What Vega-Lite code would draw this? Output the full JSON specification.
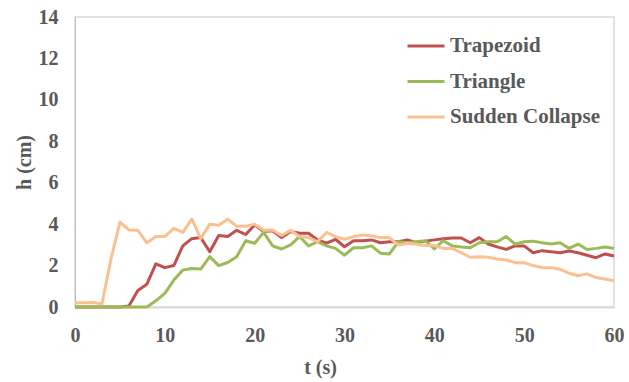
{
  "$schema": "https://vega.github.io/schema/vega-lite/v6.json",
  "autosize": "none",
  "width": 539,
  "height": 290,
  "padding": {"left": 75, "top": 17, "right": 15, "bottom": 75},
  "background": "white",
  "config": {
    "view": {"stroke": "#d9d9d9", "strokeWidth": 1.5},
    "font": "Times New Roman, Liberation Serif, serif"
  },
  "data": {
    "values": [
      {"t":0,"Trapezoid":0,"Triangle":0,"Sudden Collapse":0.2},
      {"t":1,"Trapezoid":0,"Triangle":0,"Sudden Collapse":0.2},
      {"t":2,"Trapezoid":0,"Triangle":0,"Sudden Collapse":0.22},
      {"t":3,"Trapezoid":0,"Triangle":0,"Sudden Collapse":0.15},
      {"t":4,"Trapezoid":0,"Triangle":0,"Sudden Collapse":2.3},
      {"t":5,"Trapezoid":0,"Triangle":0,"Sudden Collapse":4.1},
      {"t":6,"Trapezoid":0.05,"Triangle":0,"Sudden Collapse":3.72},
      {"t":7,"Trapezoid":0.8,"Triangle":0,"Sudden Collapse":3.7},
      {"t":8,"Trapezoid":1.1,"Triangle":0,"Sudden Collapse":3.1},
      {"t":9,"Trapezoid":2.08,"Triangle":0.3,"Sudden Collapse":3.4},
      {"t":10,"Trapezoid":1.9,"Triangle":0.66,"Sudden Collapse":3.4},
      {"t":11,"Trapezoid":2.0,"Triangle":1.3,"Sudden Collapse":3.8},
      {"t":12,"Trapezoid":2.95,"Triangle":1.78,"Sudden Collapse":3.6},
      {"t":13,"Trapezoid":3.3,"Triangle":1.86,"Sudden Collapse":4.25},
      {"t":14,"Trapezoid":3.35,"Triangle":1.83,"Sudden Collapse":3.3},
      {"t":15,"Trapezoid":2.67,"Triangle":2.43,"Sudden Collapse":4.0},
      {"t":16,"Trapezoid":3.45,"Triangle":2.0,"Sudden Collapse":3.95},
      {"t":17,"Trapezoid":3.4,"Triangle":2.15,"Sudden Collapse":4.24},
      {"t":18,"Trapezoid":3.7,"Triangle":2.43,"Sudden Collapse":3.9},
      {"t":19,"Trapezoid":3.5,"Triangle":3.2,"Sudden Collapse":3.9},
      {"t":20,"Trapezoid":3.96,"Triangle":3.08,"Sudden Collapse":4.0},
      {"t":21,"Trapezoid":3.64,"Triangle":3.6,"Sudden Collapse":3.7},
      {"t":22,"Trapezoid":3.68,"Triangle":2.95,"Sudden Collapse":3.72},
      {"t":23,"Trapezoid":3.35,"Triangle":2.8,"Sudden Collapse":3.45},
      {"t":24,"Trapezoid":3.64,"Triangle":3.0,"Sudden Collapse":3.7},
      {"t":25,"Trapezoid":3.56,"Triangle":3.4,"Sudden Collapse":3.4},
      {"t":26,"Trapezoid":3.56,"Triangle":2.95,"Sudden Collapse":3.35},
      {"t":27,"Trapezoid":3.24,"Triangle":3.15,"Sudden Collapse":3.15},
      {"t":28,"Trapezoid":3.08,"Triangle":2.95,"Sudden Collapse":3.6},
      {"t":29,"Trapezoid":3.27,"Triangle":2.83,"Sudden Collapse":3.4},
      {"t":30,"Trapezoid":2.91,"Triangle":2.5,"Sudden Collapse":3.27},
      {"t":31,"Trapezoid":3.2,"Triangle":2.86,"Sudden Collapse":3.4},
      {"t":32,"Trapezoid":3.2,"Triangle":2.86,"Sudden Collapse":3.47},
      {"t":33,"Trapezoid":3.24,"Triangle":2.95,"Sudden Collapse":3.44},
      {"t":34,"Trapezoid":3.1,"Triangle":2.6,"Sudden Collapse":3.35},
      {"t":35,"Trapezoid":3.15,"Triangle":2.56,"Sudden Collapse":3.35},
      {"t":36,"Trapezoid":3.15,"Triangle":3.15,"Sudden Collapse":2.99},
      {"t":37,"Trapezoid":3.24,"Triangle":3.1,"Sudden Collapse":3.08},
      {"t":38,"Trapezoid":3.1,"Triangle":3.15,"Sudden Collapse":3.03},
      {"t":39,"Trapezoid":3.18,"Triangle":3.2,"Sudden Collapse":2.97},
      {"t":40,"Trapezoid":3.24,"Triangle":2.8,"Sudden Collapse":2.97},
      {"t":41,"Trapezoid":3.3,"Triangle":3.2,"Sudden Collapse":2.83},
      {"t":42,"Trapezoid":3.33,"Triangle":2.95,"Sudden Collapse":2.83},
      {"t":43,"Trapezoid":3.33,"Triangle":2.9,"Sudden Collapse":2.62},
      {"t":44,"Trapezoid":3.1,"Triangle":2.86,"Sudden Collapse":2.4},
      {"t":45,"Trapezoid":3.35,"Triangle":3.1,"Sudden Collapse":2.43},
      {"t":46,"Trapezoid":3.04,"Triangle":3.15,"Sudden Collapse":2.4},
      {"t":47,"Trapezoid":2.9,"Triangle":3.15,"Sudden Collapse":2.32},
      {"t":48,"Trapezoid":2.78,"Triangle":3.4,"Sudden Collapse":2.27},
      {"t":49,"Trapezoid":2.95,"Triangle":3.03,"Sudden Collapse":2.14},
      {"t":50,"Trapezoid":2.95,"Triangle":3.15,"Sudden Collapse":2.14},
      {"t":51,"Trapezoid":2.62,"Triangle":3.18,"Sudden Collapse":2.0},
      {"t":52,"Trapezoid":2.72,"Triangle":3.1,"Sudden Collapse":1.9},
      {"t":53,"Trapezoid":2.67,"Triangle":3.04,"Sudden Collapse":1.9},
      {"t":54,"Trapezoid":2.62,"Triangle":3.1,"Sudden Collapse":1.82},
      {"t":55,"Trapezoid":2.7,"Triangle":2.83,"Sudden Collapse":1.63},
      {"t":56,"Trapezoid":2.62,"Triangle":3.04,"Sudden Collapse":1.51},
      {"t":57,"Trapezoid":2.5,"Triangle":2.78,"Sudden Collapse":1.6},
      {"t":58,"Trapezoid":2.38,"Triangle":2.83,"Sudden Collapse":1.42},
      {"t":59,"Trapezoid":2.56,"Triangle":2.9,"Sudden Collapse":1.35},
      {"t":60,"Trapezoid":2.46,"Triangle":2.83,"Sudden Collapse":1.27}
    ]
  },
  "transform": [
    {"fold": ["Trapezoid", "Triangle", "Sudden Collapse"], "as": ["series", "h"]}
  ],
  "mark": {"type": "line", "strokeWidth": 3, "strokeJoin": "round", "clip": false},
  "encoding": {
    "x": {
      "field": "t", "type": "quantitative",
      "scale": {"domain": [0, 60], "nice": false},
      "axis": {
        "values": [0, 10, 20, 30, 40, 50, 60],
        "title": "t (s)",
        "titleFont": "Times New Roman, Liberation Serif, serif", "titleFontSize": 20, "titleFontWeight": "bold", "titleColor": "#595959",
        "titleX": 245, "titlePadding": 12,
        "labelFont": "Times New Roman, Liberation Serif, serif", "labelFontSize": 20, "labelFontWeight": "bold", "labelColor": "#595959",
        "labelPadding": 18, "labelFlush": false,
        "ticks": false, "grid": false,
        "domainColor": "#d9d9d9", "domainWidth": 2
      }
    },
    "y": {
      "field": "h", "type": "quantitative",
      "scale": {"domain": [0, 14], "nice": false},
      "axis": {
        "values": [0, 2, 4, 6, 8, 10, 12, 14],
        "title": "h (cm)",
        "titleFont": "Times New Roman, Liberation Serif, serif", "titleFontSize": 20, "titleFontWeight": "bold", "titleColor": "#595959",
        "titlePadding": 4,
        "labelFont": "Times New Roman, Liberation Serif, serif", "labelFontSize": 20, "labelFontWeight": "bold", "labelColor": "#595959",
        "labelPadding": 17, "labelFlush": false,
        "ticks": false, "grid": false,
        "domainColor": "#bfbfbf", "domainWidth": 1
      }
    },
    "color": {
      "field": "series", "type": "nominal",
      "scale": {"domain": ["Trapezoid", "Triangle", "Sudden Collapse"], "range": ["#C0504D", "#9BBB59", "#FAC090"]},
      "legend": {
        "title": null,
        "orient": "none",
        "legendX": 331,
        "legendY": 9,
        "padding": 0,
        "symbolType": "stroke",
        "symbolSize": 1369,
        "symbolStrokeWidth": 3,
        "labelFont": "Times New Roman, Liberation Serif, serif", "labelFontSize": 21, "labelFontWeight": "bold", "labelColor": "#595959",
        "labelOffset": 4,
        "rowPadding": 5.5
      }
    }
  }
}
